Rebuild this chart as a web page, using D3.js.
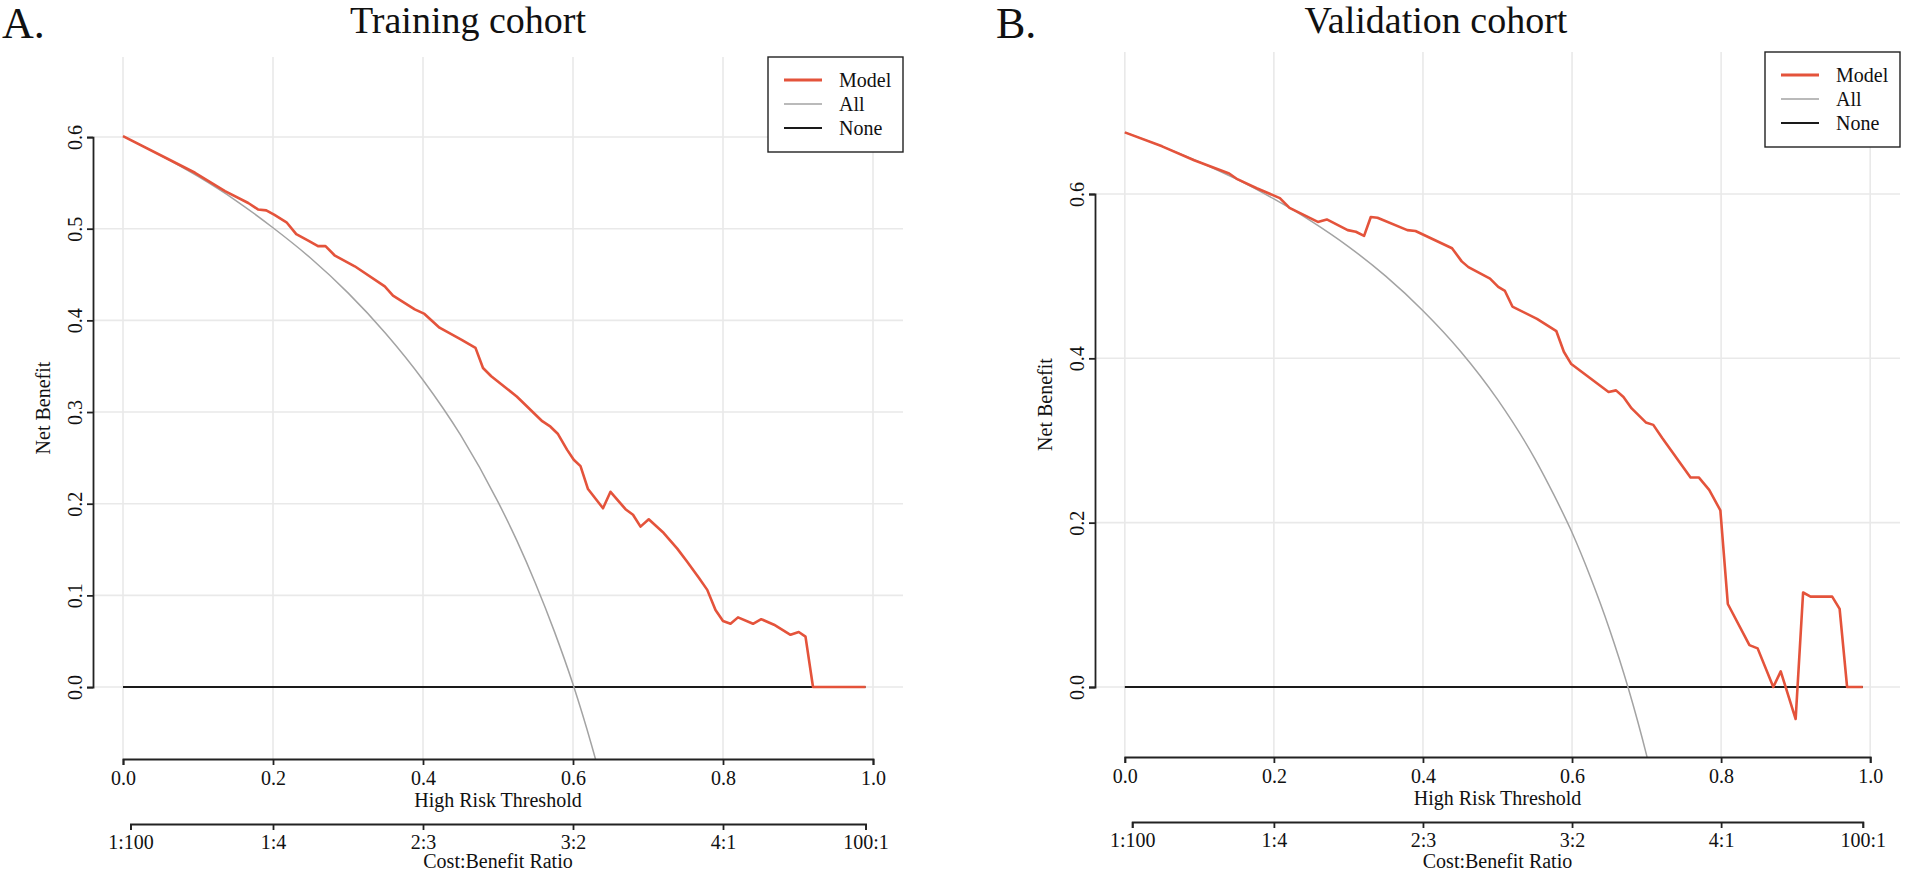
<!DOCTYPE html>
<html>
<head>
<meta charset="utf-8">
<script src="https://cdn.jsdelivr.net/npm/d3@7"></script>
<style>
  body { margin: 0; background: #fff; }
  text { font-family: "Liberation Serif", "Times New Roman", serif; fill: #111; }
</style>
</head>
<body>
<script>
// ---- training cohort ----
var trainModelT = [0, 0.06, 0.096, 0.136, 0.167, 0.18, 0.191, 0.202, 0.218, 0.231, 0.247, 0.26, 0.27, 0.282,
  0.309, 0.349, 0.36, 0.389, 0.402, 0.422, 0.451, 0.47, 0.48, 0.491, 0.525, 0.559, 0.57, 0.58, 0.592, 0.601,
  0.61, 0.62, 0.64, 0.65, 0.67, 0.68, 0.69, 0.701, 0.721, 0.739, 0.752, 0.768, 0.779, 0.79, 0.8, 0.81, 0.82,
  0.84, 0.851, 0.868, 0.89, 0.901, 0.91, 0.92, 0.99];
var trainModelNB = [0.601, 0.576, 0.561, 0.541, 0.528, 0.521, 0.520, 0.515, 0.507, 0.494, 0.487, 0.481, 0.481, 0.471,
  0.459, 0.437, 0.427, 0.412, 0.407, 0.392, 0.379, 0.370, 0.348, 0.339, 0.317, 0.290, 0.284, 0.276, 0.259, 0.248,
  0.241, 0.216, 0.195, 0.213, 0.194, 0.188, 0.175, 0.183, 0.168, 0.151, 0.137, 0.119, 0.106, 0.084, 0.072, 0.069, 0.076,
  0.069, 0.074, 0.068, 0.057, 0.060, 0.055, 0.000, 0.000];
var trainAllT = [0, 0.05, 0.1, 0.15, 0.2, 0.25, 0.3, 0.35, 0.4, 0.45, 0.5, 0.525, 0.55, 0.575, 0.6, 0.625, 0.65];
var trainAllNB = [0.601, 0.580, 0.557, 0.531, 0.501, 0.468, 0.430, 0.386, 0.335, 0.275, 0.202, 0.160, 0.113, 0.061, 0.003, -0.064, -0.140];

// ---- validation cohort ----
var validModelT = [0, 0.05, 0.093, 0.14, 0.151, 0.177, 0.208, 0.221, 0.259, 0.271, 0.299, 0.31, 0.321, 0.33, 0.339,
  0.379, 0.39, 0.439, 0.452, 0.461, 0.49, 0.501, 0.51, 0.52, 0.553, 0.579, 0.589, 0.599, 0.649, 0.659, 0.669,
  0.68, 0.699, 0.709, 0.721, 0.759, 0.77, 0.784, 0.799, 0.809, 0.838, 0.849, 0.87, 0.88, 0.9, 0.91, 0.92,
  0.949, 0.959, 0.969, 0.99];
var validModelNB = [0.675, 0.658, 0.641, 0.625, 0.618, 0.607, 0.595, 0.583, 0.566, 0.569, 0.556, 0.554, 0.549, 0.572, 0.571,
  0.556, 0.555, 0.534, 0.518, 0.511, 0.497, 0.487, 0.482, 0.463, 0.448, 0.433, 0.408, 0.393, 0.359, 0.361, 0.353,
  0.339, 0.322, 0.319, 0.303, 0.255, 0.255, 0.240, 0.215, 0.101, 0.051, 0.047, 0.000, 0.019, -0.039, 0.115, 0.110,
  0.110, 0.095, 0.000, 0.000];
var validAllT = [0, 0.05, 0.1, 0.15, 0.2, 0.25, 0.3, 0.35, 0.4, 0.45, 0.5, 0.55, 0.575, 0.6, 0.625, 0.65, 0.675, 0.7, 0.725];
var validAllNB = [0.675, 0.658, 0.639, 0.618, 0.594, 0.567, 0.536, 0.500, 0.458, 0.409, 0.350, 0.278, 0.235, 0.188, 0.133, 0.071, 0.000, -0.083, -0.182];

// treat none
var noneT = [0, 0.99];
var noneNB = [0, 0];

// ticks and labels
var xTicks = [0, 0.2, 0.4, 0.6, 0.8, 1.0];
var trainYTicks = [0, 0.1, 0.2, 0.3, 0.4, 0.5, 0.6];
var validYTicks = [0, 0.2, 0.4, 0.6];
var cbTicks = [1 / 101, 0.2, 0.4, 0.6, 0.8, 100 / 101];
var cbLabels = ["1:100", "1:4", "2:3", "3:2", "4:1", "100:1"];
var legendNames = ["Model", "All", "None"];
var panelTitles = ["Training cohort", "Validation cohort"];
var panelLetters = ["A.", "B."];

var colModel = "#e4533b", colAll = "#a3a3a3", colNone = "#1a1a1a", colGrid = "#e9e9e9", colAxis = "#222";

var svg = d3.select("body").append("svg")
  .attr("width", 1908)
  .attr("height", 873);

svg.append("rect").attr("width", 1908).attr("height", 873).attr("fill", "#fff");

// layout of the two panels
var panels = [
  { id: "tr", left: 93, right: 903, top: 57, bottom: 759, ydom: [-0.0785, 0.6873], yTicks: trainYTicks,
    model: [trainModelT, trainModelNB], all: [trainAllT, trainAllNB],
    title: panelTitles[0], titleX: 468, letter: panelLetters[0], letterX: 2 },
  { id: "va", left: 1095, right: 1900, top: 52, bottom: 757, ydom: [-0.0852, 0.7728], yTicks: validYTicks,
    model: [validModelT, validModelNB], all: [validAllT, validAllNB],
    title: panelTitles[1], titleX: 1436, letter: panelLetters[1], letterX: 996 }
];

function zipPts(arr) {
  return arr[0].map(function (t, i) { return [t, arr[1][i]]; });
}

function styleAxis(g) {
  g.attr("color", colAxis)
    .attr("font-size", 20)
    .attr("font-family", "Liberation Serif, Times New Roman, serif");
  g.selectAll("path, line").attr("stroke-width", 1.8);
  g.selectAll("text").attr("fill", "#111");
}

panels.forEach(function (p) {
  var x = d3.scaleLinear().domain([-0.04, 1.04]).range([p.left, p.right]);
  var y = d3.scaleLinear().domain(p.ydom).range([p.bottom, p.top]);
  var g = svg.append("g");

  // clip to plot region
  g.append("clipPath").attr("id", "clip-" + p.id)
    .append("rect")
    .attr("x", p.left).attr("y", p.top)
    .attr("width", p.right - p.left).attr("height", p.bottom - p.top);

  // grid
  g.selectAll(".vgrid").data(xTicks).enter().append("line")
    .attr("x1", function (d) { return x(d); }).attr("x2", function (d) { return x(d); })
    .attr("y1", p.top).attr("y2", p.bottom)
    .attr("stroke", colGrid).attr("stroke-width", 1.6);
  g.selectAll(".hgrid").data(p.yTicks).enter().append("line")
    .attr("x1", p.left).attr("x2", p.right)
    .attr("y1", function (d) { return y(d); }).attr("y2", function (d) { return y(d); })
    .attr("stroke", colGrid).attr("stroke-width", 1.6);

  var line = d3.line()
    .x(function (d) { return x(d[0]); })
    .y(function (d) { return y(d[1]); });

  var plot = g.append("g").attr("clip-path", "url(#clip-" + p.id + ")");

  // None
  plot.append("path")
    .datum(zipPts([noneT, noneNB]))
    .attr("d", line)
    .attr("fill", "none").attr("stroke", colNone).attr("stroke-width", 2);

  // All
  plot.append("path")
    .datum(zipPts(p.all))
    .attr("d", line.curve(d3.curveMonotoneX))
    .attr("fill", "none").attr("stroke", colAll).attr("stroke-width", 1.5);

  // Model
  plot.append("path")
    .datum(zipPts(p.model))
    .attr("d", line.curve(d3.curveLinear))
    .attr("fill", "none").attr("stroke", colModel).attr("stroke-width", 2.6)
    .attr("stroke-linejoin", "round");

  // x axis (threshold), line only from 0 to 1 like base R
  var xa = d3.scaleLinear().domain([0, 1]).range([x(0), x(1)]);
  g.append("g")
    .attr("transform", "translate(0," + p.bottom + ")")
    .call(d3.axisBottom(xa).tickValues(xTicks).tickFormat(d3.format(".1f"))
      .tickSizeOuter(0).tickSize(6).tickPadding(6))
    .call(styleAxis);

  g.append("text")
    .attr("x", (p.left + p.right) / 2).attr("y", p.bottom + 48)
    .attr("text-anchor", "middle").attr("font-size", 20)
    .text("High Risk Threshold");

  // cost:benefit axis
  var cbY = p.bottom + 65;
  var cb = d3.scaleLinear().domain([cbTicks[0], cbTicks[5]]).range([x(cbTicks[0]), x(cbTicks[5])]);
  g.append("g")
    .attr("transform", "translate(0," + cbY + ")")
    .call(d3.axisBottom(cb).tickValues(cbTicks)
      .tickFormat(function (d, i) { return cbLabels[i]; })
      .tickSizeOuter(0).tickSize(6).tickPadding(5))
    .call(styleAxis);

  g.append("text")
    .attr("x", (p.left + p.right) / 2).attr("y", 868)
    .attr("text-anchor", "middle").attr("font-size", 20)
    .text("Cost:Benefit Ratio");

  // y axis, rotated labels
  var ytop = p.yTicks[p.yTicks.length - 1];
  var ya = d3.scaleLinear().domain([0, ytop]).range([y(0), y(ytop)]);
  var yg = g.append("g")
    .attr("transform", "translate(" + p.left + ",0)")
    .call(d3.axisLeft(ya).tickValues(p.yTicks).tickFormat(d3.format(".1f"))
      .tickSizeOuter(0).tickSize(6))
    .call(styleAxis);
  yg.selectAll(".tick text")
    .attr("x", 0).attr("y", -11).attr("dy", null)
    .attr("text-anchor", "middle")
    .attr("transform", "rotate(-90)");

  g.append("text")
    .attr("transform", "translate(" + (p.left - 43) + "," + ((p.top + p.bottom) / 2) + ") rotate(-90)")
    .attr("text-anchor", "middle").attr("font-size", 20)
    .text("Net Benefit");

  // titles
  g.append("text")
    .attr("x", p.titleX).attr("y", 33)
    .attr("text-anchor", "middle").attr("font-size", 38)
    .text(p.title);
  g.append("text")
    .attr("x", p.letterX).attr("y", 38)
    .attr("font-size", 44)
    .text(p.letter);

  // legend, top right of plot region
  var lw = 135, lh = 95;
  var lg = g.append("g").attr("transform", "translate(" + (p.right - lw) + "," + p.top + ")");
  lg.append("rect")
    .attr("width", lw).attr("height", lh)
    .attr("fill", "#fff").attr("stroke", colAxis).attr("stroke-width", 1.4);
  var legCols = [colModel, colAll, colNone];
  var legW = [3, 1.6, 2];
  legendNames.forEach(function (name, i) {
    var ly = 23 + i * 24;
    lg.append("line")
      .attr("x1", 16).attr("x2", 54).attr("y1", ly).attr("y2", ly)
      .attr("stroke", legCols[i]).attr("stroke-width", legW[i]);
    lg.append("text")
      .attr("x", 71).attr("y", ly + 7)
      .attr("font-size", 20)
      .text(name);
  });
});
</script>
</body>
</html>
